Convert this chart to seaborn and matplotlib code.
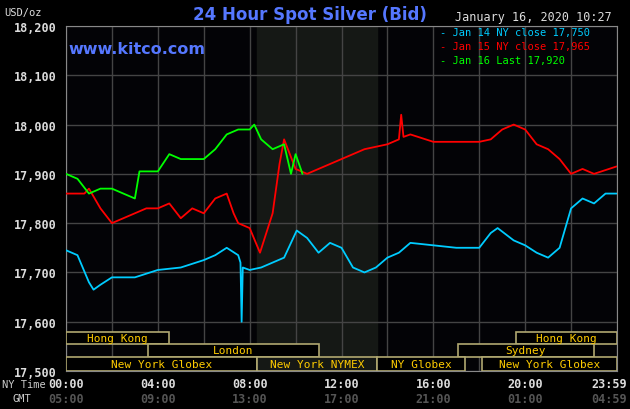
import matplotlib
matplotlib.use("Agg")
import matplotlib.pyplot as plt
import seaborn as sns
import pandas as pd
from matplotlib.patches import Rectangle

blue_t = [0,0.5,1.0,1.2,1.5,2.0,3.0,4.0,5.0,6.0,6.5,7.0,7.5,7.6,7.65,7.7,8.0,8.5,9.0,9.5,10.05,10.5,11.0,11.5,12.0,12.5,13.0,13.5,14.0,14.5,15.0,16.0,17.0,18.0,18.5,18.8,19.5,20.0,20.5,21.0,21.5,22.0,22.5,23.0,23.5,23.98]
blue_v = [17.745,17.735,17.68,17.665,17.675,17.69,17.69,17.705,17.71,17.725,17.735,17.75,17.735,17.72,17.60,17.71,17.705,17.71,17.72,17.73,17.785,17.77,17.74,17.76,17.75,17.71,17.70,17.71,17.73,17.74,17.76,17.755,17.75,17.75,17.78,17.79,17.765,17.755,17.74,17.73,17.75,17.83,17.85,17.84,17.86,17.86]
red_t = [0,0.8,1.0,1.5,2.0,2.5,3.0,3.5,4.0,4.5,5.0,5.5,6.0,6.5,7.0,7.3,7.5,8.0,8.45,9.0,9.3,9.5,10.0,10.5,11.0,12.0,13.0,14.0,14.5,14.6,14.7,15.0,16.0,17.0,18.0,18.5,19.0,19.5,20.0,20.5,21.0,21.5,22.0,22.5,23.0,23.98]
red_v = [17.86,17.86,17.87,17.83,17.80,17.81,17.82,17.83,17.83,17.84,17.81,17.83,17.82,17.85,17.86,17.82,17.80,17.79,17.74,17.82,17.92,17.97,17.91,17.90,17.91,17.93,17.95,17.96,17.97,18.02,17.975,17.98,17.965,17.965,17.965,17.97,17.99,18.00,17.99,17.96,17.95,17.93,17.90,17.91,17.90,17.915]
green_t = [0,0.5,1.0,1.5,2.0,2.5,3.0,3.2,4.0,4.5,5.0,6.0,6.5,7.0,7.5,8.0,8.2,8.5,9.0,9.5,9.8,10.0,10.3]
green_v = [17.90,17.89,17.86,17.87,17.87,17.86,17.85,17.905,17.905,17.94,17.93,17.93,17.95,17.98,17.99,17.99,18.00,17.97,17.95,17.96,17.90,17.94,17.90]

y_ticks = [17.5,17.6,17.7,17.8,17.9,18.0,18.1,18.2]
x_labels_ny = ["00:00","04:00","08:00","12:00","16:00","20:00","23:59"]
x_labels_gmt = ["05:00","09:00","13:00","17:00","21:00","01:00","04:59"]
x_label_pos = [0,4,8,12,16,20,23.983]
legend_labels = ["Jan 14 NY close 17,750","Jan 15 NY close 17,965","Jan 16 Last 17,920"]
colors = ["#00ccff","#ff0000","#00ff00"]

sessions = [  # (label, start, end, row)
    ("Hong Kong",0,4.5,2),("Hong Kong",19.6,24,2),
    ("London",3.55,11.0,1),("Sydney",17.07,23.0,1),
    ("New York Globex",0,8.33,0),("New York NYMEX",8.33,13.55,0),
    ("NY Globex",13.55,17.4,0),("New York Globex",18.1,24,0),
]
rows = [(17.5,17.529),(17.529,17.555),(17.555,17.579)]

sns.set_style("dark")
plt.rcParams['font.family'] = ['DejaVu Sans Mono']
fig = plt.figure(figsize=(6.3,4.1), dpi=100, facecolor="black")
ax = fig.add_axes([66/630, 38/410, 551/630, 345/410])
ax.set_facecolor("#030306")
ax.axvspan(8.33,13.55,color="#151815",zorder=0)
for lab, t, v, c in zip(legend_labels,[blue_t,red_t,green_t],[blue_v,red_v,green_v],colors):
    sns.lineplot(x=t, y=v, ax=ax, color=c, lw=1.3, zorder=3)
ax.set_xlim(0,24); ax.set_ylim(17.5,18.2)
ax.set_xticks(range(0,25,2)); ax.set_yticks(y_ticks)
ax.set_xticklabels([]); ax.set_yticklabels([f"{int(v)},{int(round((v%1)*1000)):03d}" for v in y_ticks], color="#dddddd", fontsize=8.5, fontweight="bold")
ax.tick_params(axis='both', length=3, color="#888888")
ax.grid(True, color="#444444", lw=1)
for s in ax.spines.values():
    s.set_color("#888888")
for lab, a, b, r in sessions:
    y0, y1 = rows[r]
    ax.add_patch(Rectangle((a,y0), b-a, y1-y0, fill=True, fc="black" if lab!="New York NYMEX" else "#151815", ec="#b0a870", lw=1.2, zorder=4))
    ax.text((a+b)/2, (y0+y1)/2, lab, color="#ffcc00", fontsize=8, ha="center", va="center", zorder=5)
for i,(p, a, b) in enumerate(zip(x_label_pos, x_labels_ny, x_labels_gmt)):
    ha = "right" if i == len(x_label_pos)-1 else "center"
    xp = 24.45 if ha == "right" else p
    ax.text(xp, -0.035, a, transform=ax.get_xaxis_transform(), color="#dddddd", fontsize=8.5, fontweight="bold", ha=ha, va="center")
    ax.text(xp, -0.08, b, transform=ax.get_xaxis_transform(), color="#555555", fontsize=8.5, fontweight="bold", ha=ha, va="center")
fig.text(2/630, 1-385/410, "NY Time", color="#cccccc", fontsize=7.5, va="center")
fig.text(12/630, 1-399/410, "GMT", color="#cccccc", fontsize=7.5, va="center")
fig.text(4/630, 1-13/410, "USD/oz", color="#dddddd", fontsize=7.5, va="center")
fig.text(310/630, 1-15/410, "24 Hour Spot Silver (Bid)", color="#5577ff", fontsize=12, fontweight="bold", ha="center", va="center", family="DejaVu Sans")
fig.text(455/630, 1-17/410, "January 16, 2020 10:27", color="#dddddd", fontsize=8.5, va="center")
fig.text(68/630, 1-49/410, "www.kitco.com", color="#5577ff", fontsize=11.5, fontweight="bold", va="center", family="DejaVu Sans")
for i,(lab,c) in enumerate(zip(legend_labels,colors)):
    fig.text(440/630, 1-(33+i*14)/410, "- "+lab, color=c, fontsize=7.5, va="center")
fig.savefig("out.png", dpi=100, facecolor="black")
